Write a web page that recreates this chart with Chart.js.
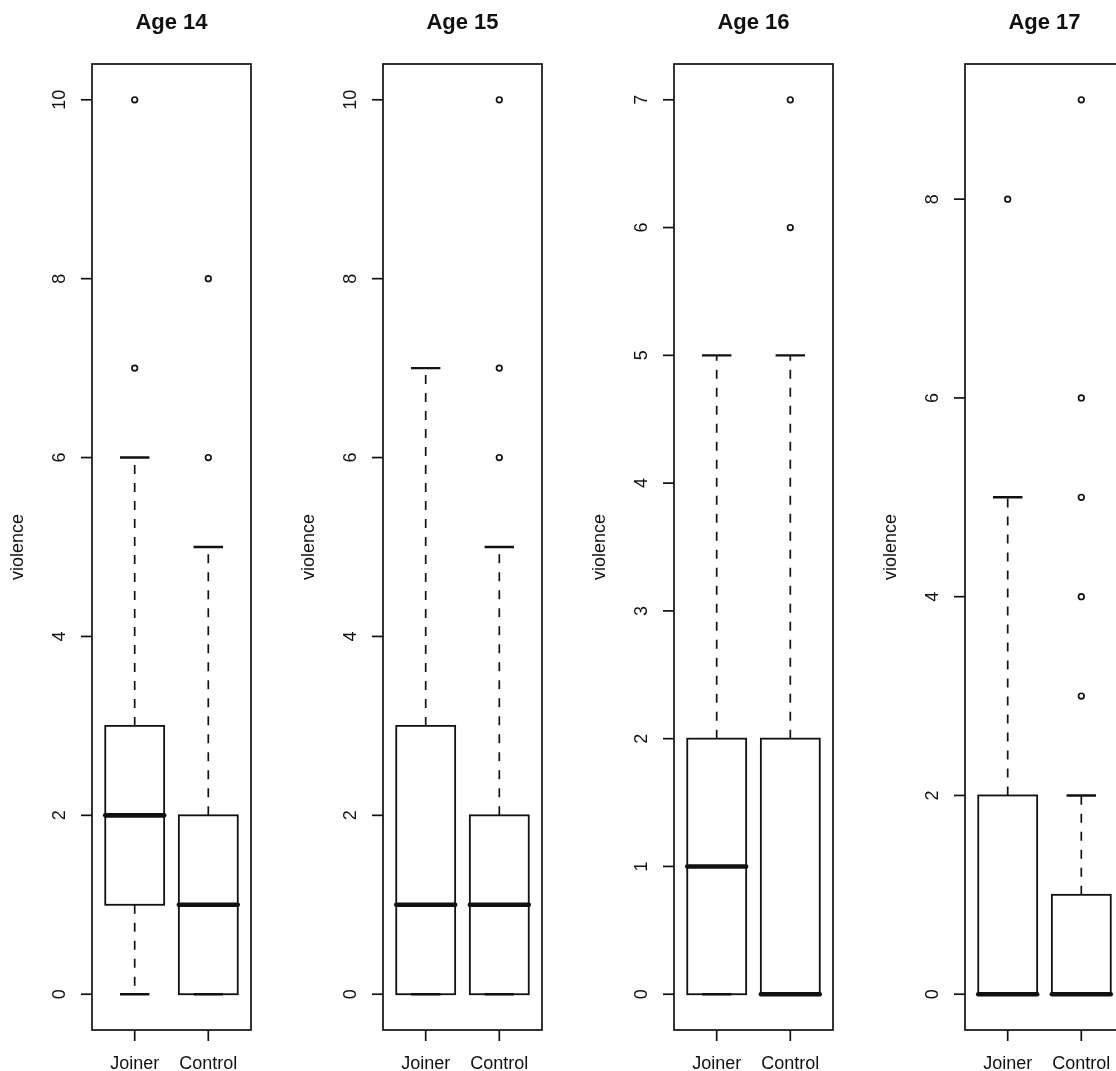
<!DOCTYPE html>
<html>
<head>
<meta charset="utf-8">
<script src="https://cdn.jsdelivr.net/npm/chart.js@4/dist/chart.umd.min.js"></script>
<style>
  html, body { margin: 0; padding: 0; background: #fff; overflow: hidden; }
  #wrap { position: relative; width: 1116px; height: 1071px; overflow: hidden; }
  #wrap canvas { position: absolute; top: 0; }
</style>
</head>
<body>
<div id="wrap"></div>
<script>
// boxplots of violence by group, one panel per age

const panelTitles = ['Age 14', 'Age 15', 'Age 16', 'Age 17'];
const groups = ['Joiner', 'Control'];
const yLabel = 'violence';

// [lower whisker, Q1, median, Q3, upper whisker]
const joinerStats  = [[0, 1, 2, 3, 6], [0, 0, 1, 3, 7], [0, 0, 1, 2, 5], [0, 0, 0, 2, 5]];
const controlStats = [[0, 0, 1, 2, 5], [0, 0, 1, 2, 5], [0, 0, 0, 2, 5], [0, 0, 0, 1, 2]];
const joinerOutliers  = [[7, 10], [], [], [8]];
const controlOutliers = [[6, 8], [6, 7, 10], [6, 7], [3, 4, 5, 6, 9]];

const yTicks = [[0, 2, 4, 6, 8, 10], [0, 2, 4, 6, 8, 10], [0, 1, 2, 3, 4, 5, 6, 7], [0, 2, 4, 6, 8]];

const FONT = '"Liberation Sans", Arial, Helvetica, sans-serif';
const PANEL_W = 291, H = 1071;
const BOX_W = 0.8;

const boxPlugin = {
    id: 'boxes',
    beforeDatasetsDraw(chart){
        const ctx = chart.ctx;
        const xs = chart.scales.x, ys = chart.scales.y;
        const stats = chart.options.plugins.boxes.stats;
        ctx.save();
        ctx.strokeStyle = '#111';
        stats.forEach((s, i)=>{
            const cx = xs.getPixelForValue(i + 1);
            const x0 = xs.getPixelForValue(i + 1 - BOX_W/2);
            const x1 = xs.getPixelForValue(i + 1 + BOX_W/2);
            const c0 = xs.getPixelForValue(i + 1 - BOX_W/4);
            const c1 = xs.getPixelForValue(i + 1 + BOX_W/4);
            const [lo, q1, med, q3, hi] = s.map(v => ys.getPixelForValue(v));

            // whiskers (dashed)
            ctx.lineWidth = 1.7;
            ctx.setLineDash([9, 9]);
            ctx.beginPath();
            ctx.moveTo(cx, q3); ctx.lineTo(cx, hi);
            ctx.moveTo(cx, q1); ctx.lineTo(cx, lo);
            ctx.stroke();
            ctx.setLineDash([]);

            // box
            ctx.lineWidth = 1.8;
            ctx.fillStyle = '#fff';
            ctx.fillRect(x0, q3, x1 - x0, q1 - q3);
            ctx.strokeRect(x0, q3, x1 - x0, q1 - q3);

            // staples
            ctx.lineWidth = 2.4;
            ctx.beginPath();
            ctx.moveTo(c0, hi); ctx.lineTo(c1, hi);
            ctx.moveTo(c0, lo); ctx.lineTo(c1, lo);
            ctx.stroke();

            // median
            ctx.lineWidth = 4.6;
            ctx.lineCap = 'round';
            ctx.beginPath();
            ctx.moveTo(x0, med); ctx.lineTo(x1, med);
            ctx.stroke();
            ctx.lineCap = 'butt';
        });
        ctx.restore();
    },
    afterDraw(chart){
        const ctx = chart.ctx;
        const a = chart.chartArea;
        const xs = chart.scales.x, ys = chart.scales.y;
        const opts = chart.options.plugins.boxes;
        ctx.save();
        ctx.strokeStyle = '#111';
        ctx.fillStyle = '#111';
        ctx.lineWidth = 1.7;
        ctx.strokeRect(a.left, a.top, a.right - a.left, a.bottom - a.top);

        // y axis ticks + rotated labels
        ctx.font = '18px ' + FONT;
        ctx.textAlign = 'center';
        ctx.textBaseline = 'middle';
        opts.ticks.forEach(v=>{
            const y = ys.getPixelForValue(v);
            ctx.beginPath();
            ctx.moveTo(a.left, y); ctx.lineTo(a.left - 11, y);
            ctx.stroke();
            ctx.save();
            ctx.translate(a.left - 32, y);
            ctx.rotate(-Math.PI/2);
            ctx.fillText(String(v), 0, 0);
            ctx.restore();
        });

        // x axis ticks + group labels
        groups.forEach((g, i)=>{
            const x = xs.getPixelForValue(i + 1);
            ctx.beginPath();
            ctx.moveTo(x, a.bottom); ctx.lineTo(x, a.bottom + 11);
            ctx.stroke();
            ctx.fillText(g, x, a.bottom + 34);
        });

        // axis title
        ctx.save();
        ctx.translate(a.left - 74, (a.top + a.bottom)/2);
        ctx.rotate(-Math.PI/2);
        ctx.fillText(yLabel, 0, 0);
        ctx.restore();

        // panel title
        ctx.font = 'bold 22px ' + FONT;
        ctx.fillText(opts.title, (a.left + a.right)/2, 23);
        ctx.restore();
    }
};

function makePanel(p){
    const canvas = document.createElement('canvas');
    canvas.width = PANEL_W;
    canvas.height = H;
    canvas.style.left = (p * PANEL_W) + 'px';
    document.getElementById('wrap').appendChild(canvas);

    const stats = [joinerStats[p], controlStats[p]];
    const outl = [joinerOutliers[p], controlOutliers[p]];
    const points = [];
    outl.forEach((arr, i)=> arr.forEach(v => points.push({x: i + 1, y: v})));

    const all = stats.flat().concat(points.map(pt => pt.y));
    const lo = Math.min(...all), hi = Math.max(...all);
    const pad = (hi - lo) * 0.04;

    new Chart(canvas, {
        type: 'scatter',
        data: {
            datasets: [{
                data: points,
                pointRadius: 2.8,
                pointBorderWidth: 1.7,
                pointBorderColor: '#111',
                pointBackgroundColor: '#fff',
                clip: false
            }]
        },
        options: {
            responsive: false,
            animation: false,
            devicePixelRatio: 1,
            layout: { padding: { left: 92, right: 40, top: 64, bottom: 41 } },
            scales: {
                x: { type: 'linear', min: 0.42, max: 2.58, display: false },
                y: { type: 'linear', min: lo - pad, max: hi + pad, display: false }
            },
            plugins: {
                legend: { display: false },
                tooltip: { enabled: false },
                boxes: { stats: stats, ticks: yTicks[p], title: panelTitles[p] }
            }
        },
        plugins: [boxPlugin]
    });
}

for(let p = 0; p < panelTitles.length; p++){ makePanel(p); }
</script>
</body>
</html>
